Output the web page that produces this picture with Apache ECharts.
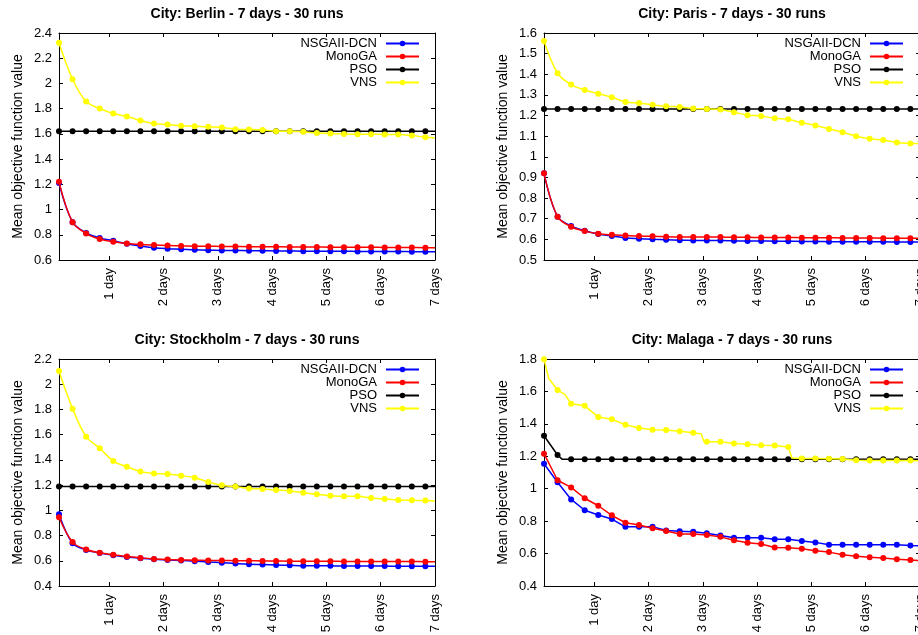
<!DOCTYPE html>
<html><head><meta charset="utf-8">
<script src="https://cdn.jsdelivr.net/npm/echarts@6/dist/echarts.min.js"></script>
<style>html,body{margin:0;padding:0;background:#fff}#c{width:918px;height:635px}</style>
</head><body><div id="c"></div>
<script>
// ---------- DATA ----------
const cityNames = ['Berlin', 'Paris', 'Stockholm', 'Malaga'];
const algoNames = ['NSGAII-DCN', 'MonoGA', 'PSO', 'VNS'];
// sample times (days) of the plotted points
const dayPoints = [0.073,0.323,0.573,0.823,1.073,1.323,1.573,1.823,2.073,2.323,2.573,2.823,3.073,3.323,
                   3.573,3.823,4.073,4.323,4.573,4.823,5.073,5.323,5.573,5.823,6.073,6.323,6.573,6.823];
const dayTicks = [1, 2, 3, 4, 5, 6, 7];
const lineEndDay = 7;

// y-axis ranges per city
const yMin = [0.6, 0.5, 0.4, 0.4];
const yMax = [2.4, 1.6, 2.2, 1.8];
const yStep = [0.2, 0.1, 0.2, 0.2];

// Berlin
const berlinNsga = [1.21,0.90,0.815,0.775,0.752,0.728,0.711,0.697,0.690,0.686,0.681,0.678,0.676,0.675,0.674,0.673,0.672,0.671,0.670,0.670,0.669,0.669,0.668,0.668,0.667,0.667,0.666,0.666];
const berlinMono = [1.22,0.90,0.81,0.766,0.744,0.730,0.724,0.718,0.714,0.712,0.710,0.709,0.708,0.707,0.706,0.706,0.705,0.704,0.704,0.703,0.702,0.702,0.701,0.701,0.700,0.700,0.699,0.698];
const berlinPso  = [1.62,1.62,1.62,1.62,1.62,1.62,1.62,1.62,1.62,1.62,1.62,1.62,1.62,1.62,1.62,1.62,1.62,1.62,1.62,1.62,1.62,1.62,1.62,1.62,1.62,1.62,1.62,1.62];
const berlinVns  = [2.323,2.033,1.856,1.801,1.761,1.738,1.706,1.682,1.674,1.664,1.661,1.656,1.650,1.637,1.635,1.631,1.621,1.620,1.616,1.608,1.603,1.600,1.598,1.598,1.595,1.595,1.587,1.574];
const berlinEnd  = [0.666, 0.698, 1.62, 1.568];

// Paris
const parisNsga = [0.92,0.71,0.665,0.642,0.626,0.616,0.607,0.603,0.600,0.598,0.596,0.595,0.594,0.594,0.593,0.592,0.592,0.591,0.591,0.590,0.590,0.589,0.589,0.588,0.588,0.588,0.587,0.587];
const parisMono = [0.92,0.71,0.661,0.640,0.627,0.622,0.619,0.616,0.615,0.613,0.612,0.612,0.611,0.611,0.610,0.610,0.609,0.609,0.609,0.608,0.608,0.608,0.607,0.607,0.607,0.606,0.606,0.605];
const parisPso  = [1.232,1.232,1.232,1.232,1.232,1.232,1.232,1.232,1.232,1.232,1.232,1.232,1.232,1.232,1.232,1.232,1.232,1.232,1.232,1.232,1.232,1.232,1.232,1.232,1.232,1.232,1.232,1.232];
const parisVns  = [1.561,1.405,1.350,1.324,1.306,1.289,1.266,1.261,1.252,1.245,1.242,1.234,1.232,1.229,1.216,1.202,1.198,1.187,1.182,1.165,1.152,1.135,1.119,1.100,1.087,1.082,1.069,1.065];
const parisEnd  = [0.587, 0.605, 1.232, 1.064];

// Stockholm
const stockNsga = [0.968,0.738,0.686,0.662,0.644,0.630,0.620,0.612,0.607,0.602,0.597,0.591,0.585,0.578,0.572,0.570,0.567,0.564,0.561,0.561,0.560,0.559,0.559,0.558,0.558,0.557,0.557,0.556];
const stockMono = [0.945,0.748,0.690,0.664,0.647,0.633,0.623,0.615,0.610,0.607,0.605,0.603,0.602,0.601,0.600,0.599,0.598,0.597,0.597,0.596,0.596,0.595,0.595,0.595,0.594,0.594,0.594,0.593];
const stockPso  = [1.188,1.188,1.188,1.188,1.188,1.188,1.188,1.188,1.188,1.188,1.188,1.188,1.188,1.188,1.188,1.188,1.188,1.188,1.188,1.188,1.188,1.188,1.188,1.188,1.188,1.188,1.188,1.188];
const stockVns  = [2.105,1.806,1.584,1.492,1.391,1.346,1.307,1.293,1.288,1.275,1.259,1.225,1.198,1.188,1.174,1.169,1.161,1.153,1.140,1.127,1.116,1.111,1.111,1.098,1.090,1.082,1.079,1.077];
const stockEnd  = [0.556, 0.593, 1.188, 1.074];

// Malaga
const malagaNsga = [1.154,1.040,0.934,0.867,0.838,0.813,0.765,0.765,0.765,0.743,0.737,0.735,0.725,0.712,0.698,0.697,0.697,0.688,0.688,0.677,0.669,0.654,0.654,0.654,0.654,0.654,0.654,0.650];
const malagaMono = [1.216,1.052,1.008,0.941,0.895,0.836,0.790,0.776,0.756,0.739,0.721,0.721,0.714,0.703,0.682,0.667,0.659,0.638,0.636,0.630,0.617,0.609,0.593,0.583,0.577,0.573,0.565,0.561];
const malagaPso  = [1.327,1.208,1.181,1.181,1.181,1.181,1.181,1.181,1.181,1.181,1.181,1.181,1.181,1.181,1.181,1.181,1.181,1.181,1.181,1.181,1.181,1.181,1.181,1.181,1.181,1.181,1.181,1.181];
const malagaVns  = [1.798,1.609,1.524,1.511,1.442,1.428,1.394,1.375,1.364,1.362,1.354,1.345,1.290,1.289,1.279,1.274,1.268,1.267,1.258,1.187,1.186,1.185,1.184,1.175,1.174,1.174,1.174,1.174];
const malagaEnd  = [0.648, 0.557, 1.181, 1.173];
// intermediate line vertices (no marker) visible in the Malaga plot
const malagaPsoExtra = [[0.41, 1.181]];
const malagaVnsExtra = [[0.16, 1.68], [0.46, 1.58], [2.97, 1.338], [3.02, 1.29], [4.64, 1.19]];

// ---------- CHART ----------
const cityData = [
  { series: [berlinNsga, berlinMono, berlinPso, berlinVns], end: berlinEnd, extra: [[], [], [], []] },
  { series: [parisNsga, parisMono, parisPso, parisVns], end: parisEnd, extra: [[], [], [], []] },
  { series: [stockNsga, stockMono, stockPso, stockVns], end: stockEnd, extra: [[], [], [], []] },
  { series: [malagaNsga, malagaMono, malagaPso, malagaVns], end: malagaEnd, extra: [[], [], malagaPsoExtra, malagaVnsExtra] }
];

const FONT = '"Liberation Sans", Arial, Helvetica, sans-serif';
const colors = ['#0000ff', '#ff0000', '#000000', '#ffff00'];
const gridBoxes = [
  { left: 59, top: 33, width: 376, height: 227, outerBoundsMode: 'none', containLabel: false },
  { left: 544, top: 33, width: 376, height: 227, outerBoundsMode: 'none', containLabel: false },
  { left: 59, top: 359, width: 376, height: 227, outerBoundsMode: 'none', containLabel: false },
  { left: 544, top: 359, width: 376, height: 227, outerBoundsMode: 'none', containLabel: false }
];
const titlePos = [[247, 7], [732, 7], [247, 333], [732, 333]];
const legendPos = [[498, 37], [14, 37], [498, 363], [14, 363]];
const smoothLevel = [0.35, 0.35, 0.35, 0];

const axisLineStyle = { color: '#000', width: 1 };
const xAxes = [], yAxes = [], series = [], titles = [], legends = [];

cityNames.forEach((city, i) => {
  titles.push({
    text: 'City: ' + city + ' - 7 days - 30 runs',
    left: titlePos[i][0], top: titlePos[i][1], textAlign: 'center', padding: 0,
    textStyle: { fontSize: 14, fontWeight: 'bold', color: '#000', fontFamily: FONT }
  });
  legends.push({
    data: algoNames, orient: 'vertical', align: 'right',
    right: legendPos[i][0], top: legendPos[i][1], padding: 0,
    itemWidth: 33, itemHeight: 7, itemGap: 0, selectedMode: false,
    textStyle: { fontSize: 13, color: '#000', fontFamily: FONT, lineHeight: 12.7, padding: [0, 4, 0, 0] }
  });
});

// bottom x axes 0..3, top x axes 4..7 ; left y axes 0..3, right y axes 4..7
for (let i = 0; i < 4; i++) {
  xAxes.push({
    type: 'value', gridIndex: i, position: 'bottom', min: dayPoints[0], max: lineEndDay,
    axisLine: { show: true, onZero: false, lineStyle: axisLineStyle },
    axisTick: { show: true, inside: true, length: 4, customValues: dayTicks, lineStyle: axisLineStyle },
    axisLabel: { show: true, customValues: dayTicks, rotate: 90, margin: 8, fontSize: 13, color: '#000', fontFamily: FONT,
                 formatter: v => (v === 1 ? '1 day' : v + ' days') },
    splitLine: { show: false }
  });
  yAxes.push({
    type: 'value', gridIndex: i, position: 'left', min: yMin[i], max: yMax[i], interval: yStep[i],
    axisLine: { show: true, onZero: false, lineStyle: axisLineStyle },
    axisTick: { show: true, inside: true, length: 4, lineStyle: axisLineStyle },
    axisLabel: { show: true, margin: 7, fontSize: 13, color: '#000', fontFamily: FONT,
                 formatter: v => String(+v.toFixed(1)) },
    splitLine: { show: false },
    name: 'Mean objective function value', nameLocation: 'middle', nameGap: 34,
    nameTextStyle: { fontSize: 14, color: '#000', fontFamily: FONT }
  });
}
for (let i = 0; i < 4; i++) {
  xAxes.push({
    type: 'value', gridIndex: i, position: 'top', min: dayPoints[0], max: lineEndDay,
    axisLine: { show: true, onZero: false, lineStyle: axisLineStyle },
    axisTick: { show: true, inside: true, length: 4, customValues: dayTicks, lineStyle: axisLineStyle },
    axisLabel: { show: false }, splitLine: { show: false }
  });
  yAxes.push({
    type: 'value', gridIndex: i, position: 'right', min: yMin[i], max: yMax[i], interval: yStep[i],
    axisLine: { show: true, onZero: false, lineStyle: axisLineStyle },
    axisTick: { show: true, inside: true, length: 4, lineStyle: axisLineStyle },
    axisLabel: { show: false }, splitLine: { show: false }
  });
}

cityData.forEach((cd, ci) => {
  cd.series.forEach((vals, ai) => {
    const pts = vals.map((v, k) => ({ value: [dayPoints[k], v] }));
    cd.extra[ai].forEach(p => pts.push({ value: [p[0], p[1]], symbol: 'none' }));
    pts.push({ value: [lineEndDay, cd.end[ai]], symbol: 'none' });
    pts.sort((a, b) => a.value[0] - b.value[0]);
    series.push({
      type: 'line', name: algoNames[ai], xAxisIndex: ci, yAxisIndex: ci,
      data: pts, symbol: 'circle', symbolSize: 6, showSymbol: true,
      smooth: smoothLevel[ci],
      lineStyle: { color: colors[ai], width: 1.5 },
      itemStyle: { color: colors[ai], borderWidth: 0 },
      emphasis: { disabled: true }, z: 2 + ai
    });
  });
});

const chart = echarts.init(document.getElementById('c'), null, { renderer: 'canvas' });
chart.setOption({
  animation: false,
  backgroundColor: '#fff',
  textStyle: { fontFamily: FONT },
  title: titles,
  legend: legends,
  grid: gridBoxes,
  xAxis: xAxes,
  yAxis: yAxes,
  series: series
});
</script>
</body></html>
